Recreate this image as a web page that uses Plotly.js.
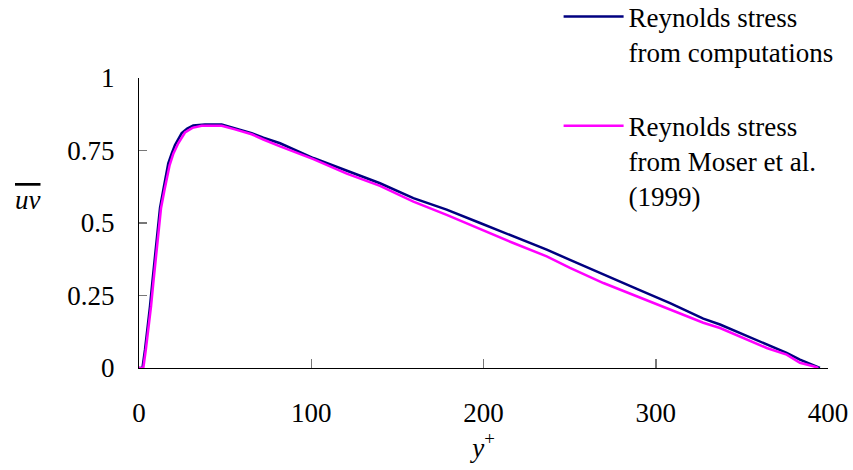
<!DOCTYPE html>
<html>
<head>
<meta charset="utf-8">
<script src="https://cdn.plot.ly/plotly-3.0.1.min.js"></script>
<style>html,body{margin:0;padding:0;background:#fff;}#chart{width:853px;height:470px;}</style>
</head>
<body>
<div id="chart"></div>
<script>
// Reynolds stress from computations (y+, uv)
const yPlusComp = [0, 2.0, 3.5, 5.0, 6.4, 7.7, 9.3, 10.8, 12.2, 14.1, 17, 19, 20.9, 24.8, 28, 31.5, 38.3, 48, 55.7, 65.4, 72.2, 81.9, 101.2, 120.6, 139.9, 159.3, 178.6, 198, 217.3, 236.7, 250.2, 269.6, 289, 308.3, 327.6, 337.3, 348.9, 364.4, 376, 383.7, 389.5, 395.3];
const uvComp = [0, 0, 0.064, 0.133, 0.213, 0.293, 0.378, 0.465, 0.552, 0.614, 0.706, 0.740, 0.769, 0.810, 0.826, 0.836, 0.840, 0.840, 0.827, 0.810, 0.794, 0.775, 0.724, 0.681, 0.637, 0.586, 0.546, 0.500, 0.454, 0.408, 0.373, 0.322, 0.273, 0.224, 0.170, 0.150, 0.121, 0.081, 0.052, 0.029, 0.015, 0];

// Reynolds stress from Moser et al. (1999)
const yPlusMoser = [0, 2.5, 4.0, 5.5, 7.0, 8.3, 9.9, 11.4, 12.8, 14.8, 17.8, 20, 22.8, 26.7, 31, 36.4, 48, 55.7, 65.4, 72.2, 81.9, 101.2, 120.6, 139.9, 159.3, 178.6, 198, 217.3, 236.7, 250.2, 269.6, 289, 308.3, 327.6, 337.3, 348.9, 364.4, 376, 383.7, 391.5, 394.4];
const uvMoser = [0, 0, 0.064, 0.133, 0.213, 0.293, 0.378, 0.465, 0.552, 0.614, 0.700, 0.740, 0.775, 0.812, 0.828, 0.835, 0.835, 0.823, 0.806, 0.788, 0.764, 0.720, 0.670, 0.628, 0.574, 0.528, 0.478, 0.431, 0.385, 0.345, 0.293, 0.247, 0.204, 0.156, 0.138, 0.109, 0.069, 0.046, 0.018, 0.006, 0];

const seriesNames = ["Reynolds stress<br>from computations", "Reynolds stress<br>from Moser et al.<br>(1999)"];
const xTickVals = [0, 100, 200, 300, 400];
const xTickText = ["0", "100", "200", "300", "400"];
const yTickVals = [0, 0.25, 0.5, 0.75, 1];
const yTickText = ["0", "0.25", "0.5", "0.75", "1"];

const FONT = "Liberation Serif";

const traces = [
  {x: yPlusComp, y: uvComp, type: "scatter", mode: "lines", name: seriesNames[0], legendgroup: "a",
   line: {color: "#000080", width: 2.5}},
  {x: yPlusMoser, y: uvMoser, type: "scatter", mode: "lines", name: seriesNames[1], legendgroup: "b",
   line: {color: "#FF00FF", width: 2.5}}
];

const layout = {
  width: 853, height: 470,
  margin: {l: 139, r: 25, t: 78, b: 102, autoexpand: false},
  paper_bgcolor: "#fff", plot_bgcolor: "#fff",
  font: {family: FONT, size: 27, color: "#000"},
  showlegend: true,
  legend: {x: 0.609, xanchor: "left", y: 1.295, yanchor: "top", valign: "top",
           font: {family: FONT, size: 27, color: "#000"}, bgcolor: "rgba(0,0,0,0)",
           tracegroupgap: 36, itemwidth: 60},
  xaxis: {range: [0, 400], tickvals: xTickVals, ticktext: xTickText,
          showgrid: false, zeroline: false, showline: true, linecolor: "#000", linewidth: 1,
          ticks: "inside", ticklen: 9, tickcolor: "#777", tickwidth: 1.5, ticklabelstandoff: 21,
          tickfont: {family: FONT, size: 27, color: "#000"},
          title: {text: "<i>y</i><sup>+</sup>", font: {family: FONT, size: 27, color: "#000"}, standoff: 8}},
  yaxis: {range: [0, 1], tickvals: yTickVals, ticktext: yTickText,
          showgrid: false, zeroline: false, showline: true, linecolor: "#000", linewidth: 1,
          ticks: "inside", ticklen: 8, tickcolor: "#777", tickwidth: 1.5, ticklabelstandoff: 18,
          tickfont: {family: FONT, size: 27, color: "#000"}},
  annotations: [
    {xref: "paper", yref: "paper", x: -0.161, y: 0.579, xanchor: "center", yanchor: "middle",
     showarrow: false, text: '<span style="text-decoration:overline"><i>uv</i></span>',
     font: {family: FONT, size: 27, color: "#000"}}
  ]
};

Plotly.newPlot("chart", traces, layout, {staticPlot: true, displayModeBar: false});
</script>
</body>
</html>
